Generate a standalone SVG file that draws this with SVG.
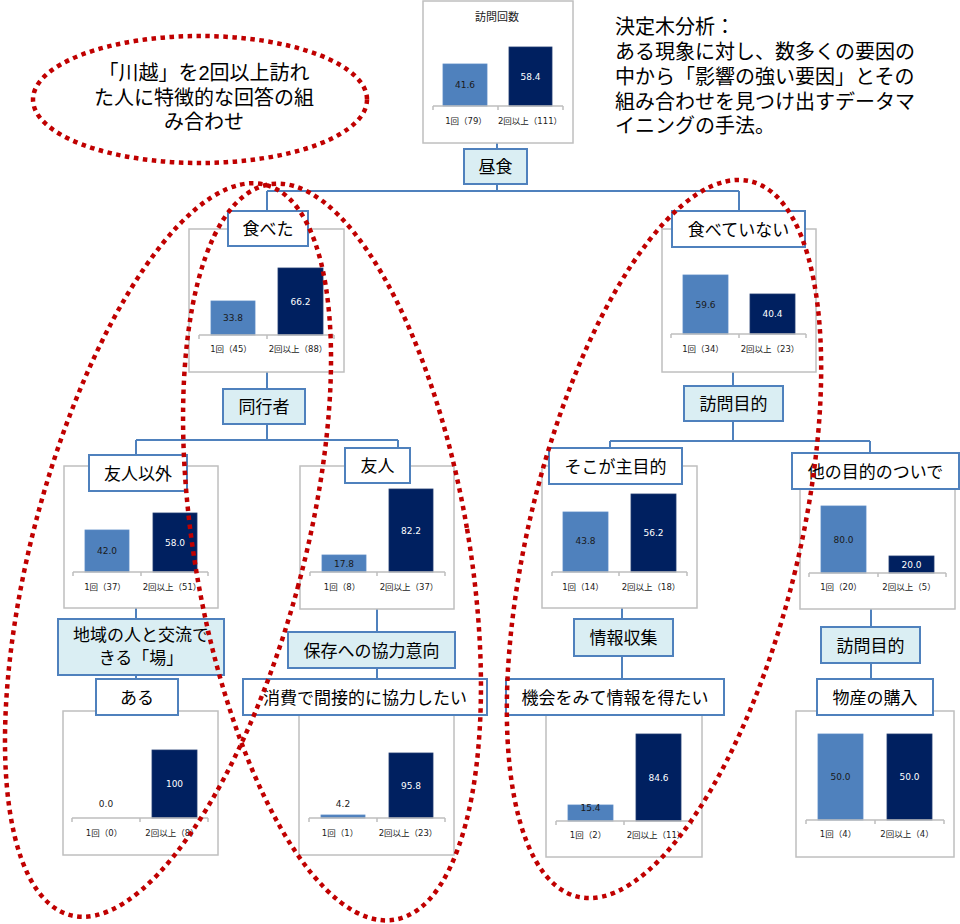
<svg xmlns="http://www.w3.org/2000/svg" width="960" height="924" viewBox="0 0 960 924">
<style>
.chart{fill:#fff;stroke:#BFBFBF;stroke-width:1.5}
.node{fill:#fff;stroke:#4F81BD;stroke-width:2}
.cond{fill:#DAEEF3;stroke:#4F81BD;stroke-width:2}
.b1{fill:#4F81BD;stroke:#5B8BC6;stroke-width:0.8}
.b2{fill:#002060;stroke:#1F3A70;stroke-width:0.8}
.axis{fill:none;stroke:#BFBFBF;stroke-width:1.5}
.conn{fill:none;stroke:#4F81BD;stroke-width:2}
.lbl{font-family:"Noto Sans CJK JP",sans-serif;font-size:17px;fill:#000;text-anchor:middle}
.lbl2{font-family:"Liberation Sans","Noto Sans CJK JP",sans-serif;font-size:17px;fill:#000;text-anchor:middle}
.v{font-family:"DejaVu Sans","Noto Sans CJK JP",sans-serif;font-size:9px;fill:#1a1a1a;text-anchor:middle}
.vw{fill:#fff}
.cat{font-family:"DejaVu Sans","Noto Sans CJK JP",sans-serif;font-size:8.5px;fill:#1a1a1a;text-anchor:middle}
.ttl{font-family:"Noto Sans CJK JP",sans-serif;font-size:11px;fill:#1a1a1a;text-anchor:middle}
.note{font-family:"Liberation Sans","Noto Sans CJK JP",sans-serif;font-size:20px;fill:#000}
.dot{fill:none;stroke:#C00000;stroke-width:4.5;stroke-dasharray:4.5 4.5}
</style>
<rect width="960" height="924" fill="#fff"/>
<g id="connectors">
<path class="conn" d="M497,143V149M497,184V191M267,191H739M267,191V211M739,191V211M267,372V389M267,424V440M136,440H398M136,440V455M398,440V448M136,608V619M136,675V679M377,609V632M377,668V679M733,369V386M733,421V441M610,441H870M610,441V448M870,441V453M622,608V619M622,656V679M871,609V627M871,663V679"/>
</g>
<g id="root">
<rect class="chart" x="423" y="1" width="150" height="142"/>
<text class="ttl" x="497" y="21">訪問回数</text>
<rect class="b1" x="443" y="64" width="44" height="42"/>
<rect class="b2" x="509" y="47" width="43" height="59"/>
<path class="axis" d="M433,106H563M433,106v4M498,106v4M563,106v4"/>
<text class="v" x="465" y="88.3">41.6</text>
<text class="v vw" x="530.5" y="79.8">58.4</text>
<text class="cat" x="466" y="124">1回（79）</text>
<text class="cat" x="530" y="124">2回以上（111）</text>
</g>
<g id="n-lunch"><rect class="cond" x="464" y="149" width="63" height="35"/><text class="lbl" x="495.5" y="173">昼食</text></g>
<g id="n-ate">
<rect class="chart" x="189" y="229" width="155" height="143"/>
<rect class="b1" x="211" y="301" width="44" height="34"/>
<rect class="b2" x="278" y="268" width="45" height="67"/>
<path class="axis" d="M199,335H334M199,335v4M267,335v4M334,335v4"/>
<text class="v" x="233" y="321.3">33.8</text>
<text class="v vw" x="300.5" y="304.8">66.2</text>
<text class="cat" x="231" y="352">1回（45）</text>
<text class="cat" x="298" y="352">2回以上（88）</text>
<rect class="node" x="228" y="211" width="80" height="35"/><text class="lbl" x="268" y="235">食べた</text>
</g>
<g id="n-companion"><rect class="cond" x="223" y="389" width="82" height="35"/><text class="lbl" x="264" y="413">同行者</text></g>
<g id="n-nonfriend">
<rect class="chart" x="64" y="466" width="154" height="142"/>
<rect class="b1" x="85" y="530" width="44" height="42"/>
<rect class="b2" x="153" y="513" width="44" height="59"/>
<path class="axis" d="M73,572H208M73,572v4M141,572v4M208,572v4"/>
<text class="v" x="107" y="554.3">42.0</text>
<text class="v vw" x="175" y="545.8">58.0</text>
<text class="cat" x="105" y="590">1回（37）</text>
<text class="cat" x="172" y="590">2回以上（51）</text>
<rect class="node" x="89" y="455" width="98" height="36"/><text class="lbl" x="138" y="479.5">友人以外</text>
</g>
<g id="n-friend">
<rect class="chart" x="300" y="466" width="154" height="143"/>
<rect class="b1" x="322" y="555" width="44" height="17"/>
<rect class="b2" x="389" y="489" width="44" height="83"/>
<path class="axis" d="M310,572H445M310,572v4M377,572v4M445,572v4"/>
<text class="v" x="344" y="566.8">17.8</text>
<text class="v vw" x="411" y="533.8">82.2</text>
<text class="cat" x="342" y="590">1回（8）</text>
<text class="cat" x="409" y="590">2回以上（37）</text>
<rect class="node" x="345" y="448" width="65" height="35"/><text class="lbl" x="377.5" y="472">友人</text>
</g>
<g id="n-local"><rect class="cond" x="58" y="619" width="166" height="56"/><text class="lbl2" x="141" y="640.5">地域の人と交流で<tspan x="141" dy="23">きる「場」</tspan></text></g>
<g id="n-aru">
<rect class="chart" x="63" y="711" width="155" height="144"/>
<rect class="b2" x="152" y="750" width="45" height="68"/>
<path class="axis" d="M72,818H208M72,818v4M140,818v4M208,818v4"/>
<text class="v" x="106" y="807">0.0</text>
<text class="v vw" x="174.5" y="787.3">100</text>
<text class="cat" x="104" y="836">1回（0）</text>
<text class="cat" x="172" y="836">2回以上（8）</text>
<rect class="node" x="96" y="679" width="82" height="36"/><text class="lbl" x="137" y="703.5">ある</text>
</g>
<g id="n-preserve"><rect class="cond" x="288" y="632" width="167" height="36"/><text class="lbl" x="371.5" y="656.5">保存への協力意向</text></g>
<g id="n-consume">
<rect class="chart" x="299" y="711" width="155" height="144"/>
<rect class="b1" x="321" y="815" width="44" height="3"/>
<rect class="b2" x="389" y="753" width="44" height="65"/>
<path class="axis" d="M309,818H445M309,818v4M377,818v4M445,818v4"/>
<text class="v" x="343" y="807">4.2</text>
<text class="v vw" x="411" y="789">95.8</text>
<text class="cat" x="340" y="836">1回（1）</text>
<text class="cat" x="408" y="836">2回以上（23）</text>
<rect class="node" x="243" y="679" width="244" height="36"/><text class="lbl" x="365" y="703.5">消費で間接的に協力したい</text>
</g>
<g id="n-notate">
<rect class="chart" x="662" y="229" width="154" height="143"/>
<rect class="b1" x="683" y="275" width="45" height="59"/>
<rect class="b2" x="750" y="294" width="45" height="40"/>
<path class="axis" d="M671,334H806M671,334v4M739,334v4M806,334v4"/>
<text class="v" x="705.5" y="307.8">59.6</text>
<text class="v vw" x="772.5" y="317.3">40.4</text>
<text class="cat" x="703" y="352">1回（34）</text>
<text class="cat" x="770" y="352">2回以上（23）</text>
<rect class="node" x="672" y="211" width="133" height="36"/><text class="lbl" x="738.5" y="235.5">食べていない</text>
</g>
<g id="n-purpose1"><rect class="cond" x="684" y="386" width="99" height="35"/><text class="lbl" x="733.5" y="410">訪問目的</text></g>
<g id="n-main">
<rect class="chart" x="542" y="466" width="155" height="142"/>
<rect class="b1" x="563" y="512" width="45" height="60"/>
<rect class="b2" x="631" y="494" width="45" height="78"/>
<path class="axis" d="M552,572H687M552,572v4M619,572v4M687,572v4"/>
<text class="v" x="585.5" y="544.3">43.8</text>
<text class="v vw" x="653.5" y="536.3">56.2</text>
<text class="cat" x="583" y="590">1回（14）</text>
<text class="cat" x="651" y="590">2回以上（18）</text>
<rect class="node" x="549" y="448" width="133" height="36"/><text class="lbl" x="615.5" y="472.5">そこが主目的</text>
</g>
<g id="n-other">
<rect class="chart" x="800" y="471" width="155" height="138"/>
<rect class="b1" x="821" y="506" width="45" height="67"/>
<rect class="b2" x="889" y="556" width="45" height="17"/>
<path class="axis" d="M809,573H946M809,573v4M878,573v4M946,573v4"/>
<text class="v" x="843.5" y="542.8">80.0</text>
<text class="v vw" x="911.5" y="568">20.0</text>
<text class="cat" x="841" y="590">1回（20）</text>
<text class="cat" x="909" y="590">2回以上（5）</text>
<rect class="node" x="792" y="453" width="167" height="36"/><text class="lbl" x="875.5" y="477.5">他の目的のついで</text>
</g>
<g id="n-info"><rect class="cond" x="574" y="619" width="99" height="37"/><text class="lbl" x="623.5" y="644">情報収集</text></g>
<g id="n-chance">
<rect class="chart" x="546" y="711" width="156" height="146"/>
<rect class="b1" x="568" y="805" width="45" height="16"/>
<rect class="b2" x="636" y="734" width="45" height="87"/>
<path class="axis" d="M556,821H692M556,821v4M624,821v4M692,821v4"/>
<text class="v" x="590.5" y="810.5">15.4</text>
<text class="v vw" x="658.5" y="780.8">84.6</text>
<text class="cat" x="588" y="838">1回（2）</text>
<text class="cat" x="656" y="838">2回以上（11）</text>
<rect class="node" x="506" y="679" width="218" height="36"/><text class="lbl" x="615" y="703.5">機会をみて情報を得たい</text>
</g>
<g id="n-purpose2"><rect class="cond" x="821" y="627" width="99" height="36"/><text class="lbl" x="870.5" y="651.5">訪問目的</text></g>
<g id="n-goods">
<rect class="chart" x="796" y="711" width="158" height="146"/>
<rect class="b1" x="818" y="734" width="45" height="86"/>
<rect class="b2" x="887" y="734" width="45" height="86"/>
<path class="axis" d="M806,820H944M806,820v4M875,820v4M944,820v4"/>
<text class="v" x="840.5" y="780.3">50.0</text>
<text class="v vw" x="909.5" y="780.3">50.0</text>
<text class="cat" x="838" y="837">1回（4）</text>
<text class="cat" x="907" y="837">2回以上（4）</text>
<rect class="node" x="817" y="679" width="116" height="36"/><text class="lbl" x="875" y="703.5">物産の購入</text>
</g>
<g id="annotations">
<text class="note" x="615" y="34">決定木分析：<tspan x="615" dy="25">ある現象に対し、数多くの要因の</tspan><tspan x="615" dy="25">中から「影響の強い要因」とその</tspan><tspan x="615" dy="24.5">組み合わせを見つけ出すデータマ</tspan><tspan x="615" dy="24.5">イニングの手法。</tspan></text>
<ellipse class="dot" cx="200" cy="99.5" rx="167" ry="63.5"/>
<text class="note" x="204" y="80" text-anchor="middle">「川越」を2回以上訪れ<tspan x="204" dy="25">た人に特徴的な回答の組</tspan><tspan x="204" dy="24">み合わせ</tspan></text>
<ellipse class="dot" cx="0" cy="0" rx="135" ry="378" transform="translate(168,550) rotate(15)"/>
<ellipse class="dot" cx="0" cy="0" rx="137" ry="373" transform="translate(332,552) rotate(-9.7)"/>
<ellipse class="dot" cx="0" cy="0" rx="135" ry="368" transform="translate(664,539) rotate(13.6)"/>
</g>
</svg>
